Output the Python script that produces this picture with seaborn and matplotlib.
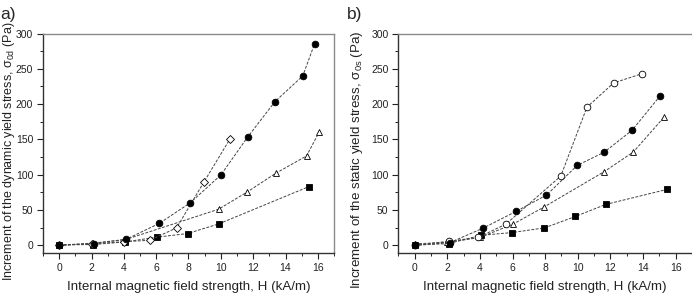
import numpy as np
import pandas as pd
import matplotlib
matplotlib.use("Agg")
import matplotlib.pyplot as plt
import seaborn as sns
from matplotlib.ticker import MultipleLocator

# panel a) dynamic yield stress
a_circle_h = [0, 2.15, 4.15, 6.2, 8.1, 10.0, 11.65, 13.35, 15.07, 15.8]
a_circle_s = [0, 2.4, 8.5, 31, 60, 99.5, 153, 203.5, 240, 285.5]
a_diamond_h = [0, 2.0, 4.0, 5.6, 7.26, 8.94, 10.55]
a_diamond_s = [0, 2, 5, 7, 24.6, 89, 150]
a_triangle_h = [0, 2.1, 4.1, 9.86, 11.6, 13.4, 15.3, 16.1]
a_triangle_s = [0, 3, 8, 51, 75, 102, 126.5, 161]
a_square_h = [0, 2.1, 4.07, 6.03, 7.95, 9.88, 15.44]
a_square_s = [0.5, 1, 4.7, 11.4, 16.6, 30.3, 83]

# panel b) static yield stress
b_circle_h = [0, 2.16, 4.18, 6.22, 8.08, 9.96, 11.63, 13.33, 15.06]
b_circle_s = [0, 3.8, 24, 48, 71, 113, 132, 163, 212]
b_diamond_h = [0, 2.1, 3.9, 5.6, 8.96, 10.56, 12.2, 13.93]
b_diamond_s = [0, 5.7, 11, 30, 98, 195.6, 230, 243]
b_triangle_h = [0, 2.0, 4.0, 6.04, 7.92, 11.6, 13.4, 15.27]
b_triangle_s = [2, 4, 11, 30, 54, 104, 132, 181]
b_square_h = [0, 2.1, 4.04, 5.98, 7.96, 9.86, 11.71, 15.45]
b_square_s = [0, 2.4, 14, 18, 24.6, 40.8, 57.8, 79]

x_ticks = [0, 2, 4, 6, 8, 10, 12, 14, 16]
y_ticks = [0, 50, 100, 150, 200, 250, 300]
x_label = "Internal magnetic field strength, H (kA/m)"
y_label_a = "Increment of the dynamic yield stress, σ$_{0d}$ (Pa)"
y_label_b = "Increment of the static yield stress, σ$_{0s}$ (Pa)"

sns.set_style("ticks")
plt.rcParams['font.family'] = ['Liberation Sans', 'DejaVu Sans']
plt.rcParams['mathtext.fontset'] = 'custom'
plt.rcParams['mathtext.rm'] = 'Liberation Sans'
plt.rcParams['mathtext.it'] = 'Liberation Sans'
plt.rcParams['mathtext.default'] = 'regular'

fig = plt.figure(figsize=(6.92, 2.96), dpi=100)
W, H = 692, 296
ax_a = fig.add_axes([43 / W, 1 - 253 / H, (334 - 43) / W, (253 - 33.5) / H])
ax_b = fig.add_axes([398.3 / W, 1 - 253 / H, (692 - 398.3) / W, (253 - 33.5) / H])

line_kw = dict(color='#444444', linewidth=0.7, linestyle=(0, (3, 1.5)))


def draw_series(ax, h, s, marker, filled, size):
    df = pd.DataFrame({'H': h, 'stress': s})
    sns.lineplot(data=df, x='H', y='stress', ax=ax, sort=False, estimator=None,
                 marker=marker, markersize=size,
                 markerfacecolor='black' if filled else 'white',
                 markeredgecolor='black', markeredgewidth=0.6, **line_kw)


for ax, series in [
    (ax_a, [(a_square_h, a_square_s, 's', True, 4.3),
            (a_triangle_h, a_triangle_s, '^', False, 5),
            (a_diamond_h, a_diamond_s, 'D', False, 4.3),
            (a_circle_h, a_circle_s, 'o', True, 4.8)]),
    (ax_b, [(b_square_h, b_square_s, 's', True, 4.3),
            (b_triangle_h, b_triangle_s, '^', False, 5),
            (b_diamond_h, b_diamond_s, 'o', False, 4.8),
            (b_circle_h, b_circle_s, 'o', True, 4.8)]),
]:
    for h, s, m, f, sz in series:
        draw_series(ax, h, s, m, f, sz)
    ax.set_xlim(-1, 17)
    ax.set_ylim(-11, 300)
    ax.set_xticks(x_ticks)
    ax.set_yticks(y_ticks)
    ax.xaxis.set_minor_locator(MultipleLocator(1))
    ax.yaxis.set_minor_locator(MultipleLocator(25))
    ax.tick_params(which='major', direction='out', length=4, width=0.8,
                   labelsize=7.5, colors='#222222', pad=3)
    ax.tick_params(which='minor', direction='out', length=2.5, width=0.7, colors='#222222')
    for sp in ax.spines.values():
        sp.set_visible(True)
        sp.set_color('#8a8a8a')
        sp.set_linewidth(1.0)
    ax.spines['left'].set_color('#333333')
    ax.spines['bottom'].set_color('#333333')
    ax.set_xlabel(x_label, fontsize=9.6, labelpad=6, color='#222222')
    ax.set_ylabel('')

ax_b.spines['right'].set_visible(False)

# long label on the left panel: shrink a little so it stays inside the figure
fig.text(9 / W, 1 - 151 / H, y_label_a, rotation=90, fontsize=9.0,
         ha='center', va='center', color='#222222')
fig.text(357 / W, 1 - 160 / H, y_label_b, rotation=90, fontsize=9.6,
         ha='center', va='center', color='#222222')
fig.text(0 / W, 1 - 14 / H, "a)", fontsize=12.5, ha='left', va='center')
fig.text(347 / W, 1 - 14 / H, "b)", fontsize=12.5, ha='left', va='center')

fig.savefig("out.png", dpi=100)
